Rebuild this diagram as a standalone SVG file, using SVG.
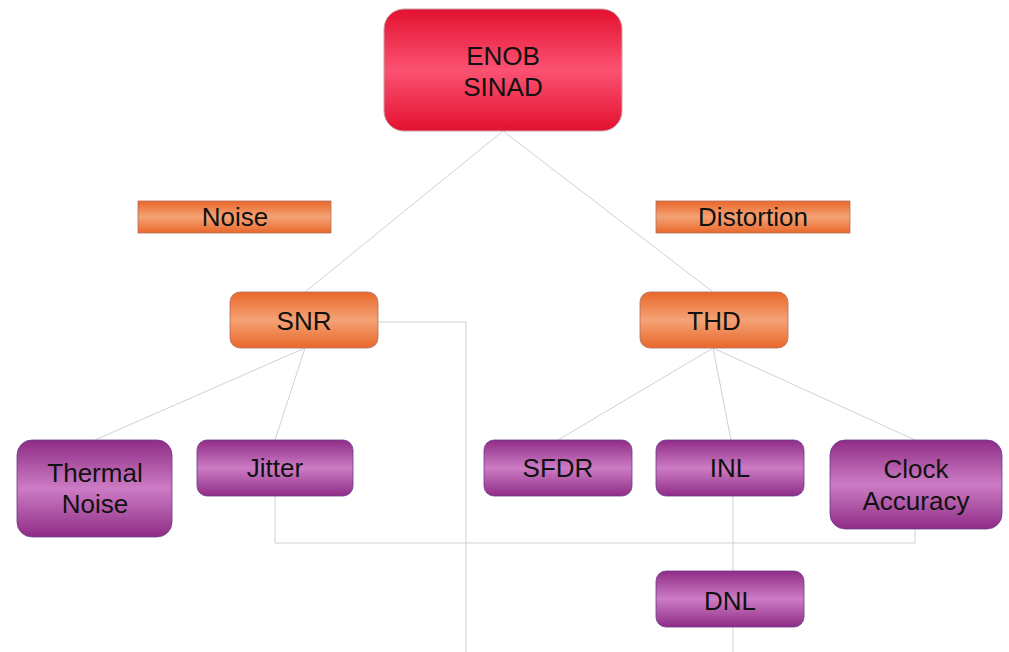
<svg xmlns="http://www.w3.org/2000/svg" width="1009" height="652" viewBox="0 0 1009 652">
<defs>
<linearGradient id="gRed" x1="0" y1="0" x2="0" y2="1">
<stop offset="0" stop-color="#e3112f"/><stop offset="0.5" stop-color="#fb5272"/><stop offset="1" stop-color="#e3112f"/>
</linearGradient>
<linearGradient id="gOr" x1="0" y1="0" x2="0" y2="1">
<stop offset="0" stop-color="#e9672a"/><stop offset="0.5" stop-color="#f4a275"/><stop offset="1" stop-color="#e9672a"/>
</linearGradient>
<linearGradient id="gPu" x1="0" y1="0" x2="0" y2="1">
<stop offset="0" stop-color="#8f2c86"/><stop offset="0.5" stop-color="#cc7cc4"/><stop offset="1" stop-color="#8f2c86"/>
</linearGradient>
</defs>
<style>
.t{font-family:"Liberation Sans",Arial,sans-serif;fill:#111;text-anchor:middle;font-size:26px}
.red{fill:url(#gRed);stroke:#c9a0a8;stroke-width:1}
.or{fill:url(#gOr);stroke:#b07060;stroke-width:0.8}
.pu{fill:url(#gPu);stroke:#6a3a8a;stroke-width:0.8}
.c{fill:none;stroke:#d0d0d4;stroke-width:1}
</style>
<rect width="1009" height="652" fill="#fff"/>
<g id="connectors">
<line class="c" x1="503" y1="131" x2="305" y2="292"/>
<line class="c" x1="503" y1="131" x2="713" y2="292"/>
<line class="c" x1="305" y1="348" x2="95" y2="440"/>
<line class="c" x1="305" y1="348" x2="275" y2="440"/>
<polyline class="c" points="378,322 466,322 466,652"/>
<line class="c" x1="713" y1="348" x2="558" y2="440"/>
<line class="c" x1="713" y1="348" x2="731" y2="440"/>
<line class="c" x1="713" y1="348" x2="915" y2="440"/>
<polyline class="c" points="275,496 275,543 915,543 915,529"/>
<line class="c" x1="733" y1="496" x2="733" y2="571"/>
<line class="c" x1="733" y1="627" x2="733" y2="652"/>
</g>
<g id="enob">
<rect class="red" x="384" y="9" width="238" height="122" rx="20"/>
<text class="t" x="503" y="65">ENOB</text>
<text class="t" x="503" y="96">SINAD</text>
</g>
<g id="noise">
<rect class="or" x="138" y="201" width="193" height="32"/>
<text class="t" x="235" y="226">Noise</text>
</g>
<g id="distortion">
<rect class="or" x="656" y="201" width="194" height="32"/>
<text class="t" x="753" y="226">Distortion</text>
</g>
<g id="snr">
<rect class="or" x="230" y="292" width="148" height="56" rx="10"/>
<text class="t" x="304" y="330">SNR</text>
</g>
<g id="thd">
<rect class="or" x="640" y="292" width="148" height="56" rx="10"/>
<text class="t" x="714" y="330">THD</text>
</g>
<g id="thermal">
<rect class="pu" x="17" y="440" width="155" height="97" rx="15"/>
<text class="t" x="95" y="482">Thermal</text>
<text class="t" x="95" y="513">Noise</text>
</g>
<g id="jitter">
<rect class="pu" x="197" y="440" width="156" height="56" rx="10"/>
<text class="t" x="275" y="477">Jitter</text>
</g>
<g id="sfdr">
<rect class="pu" x="484" y="440" width="148" height="56" rx="10"/>
<text class="t" x="558" y="477">SFDR</text>
</g>
<g id="inl">
<rect class="pu" x="656" y="440" width="148" height="56" rx="10"/>
<text class="t" x="730" y="477">INL</text>
</g>
<g id="clock">
<rect class="pu" x="830" y="440" width="172" height="89" rx="15"/>
<text class="t" x="916" y="478">Clock</text>
<text class="t" x="916" y="510">Accuracy</text>
</g>
<g id="dnl">
<rect class="pu" x="656" y="571" width="148" height="56" rx="10"/>
<text class="t" x="730" y="610">DNL</text>
</g>
</svg>
